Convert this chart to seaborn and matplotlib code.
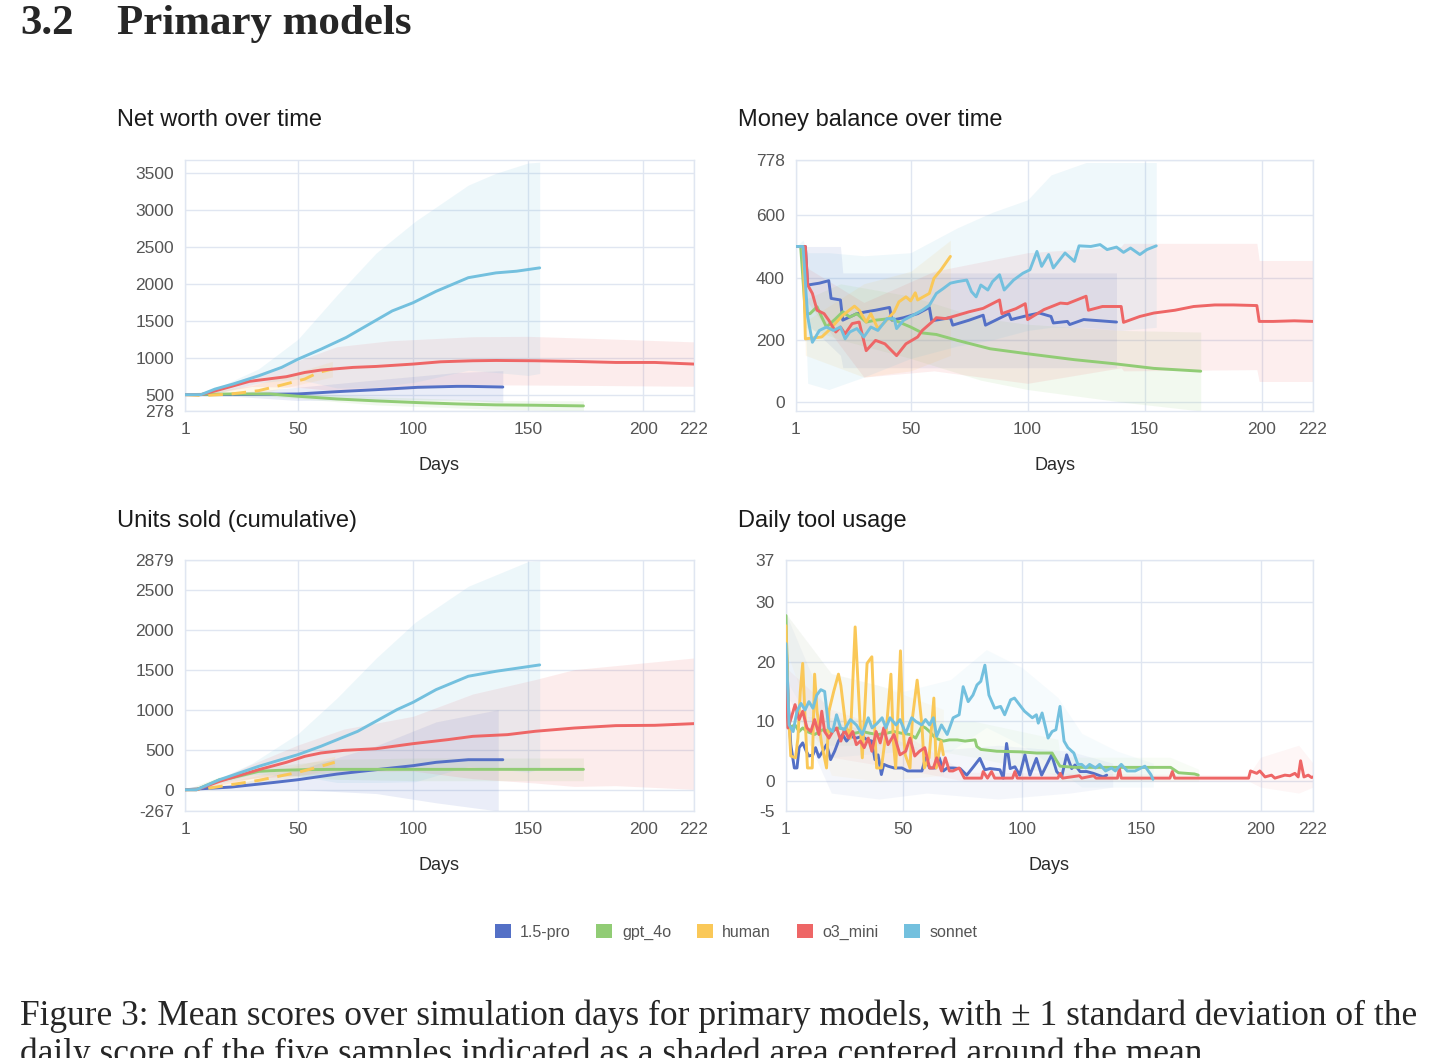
import seaborn as sns
import matplotlib.pyplot as plt
from matplotlib.patches import Patch

# ---------------- data ----------------
MODELS = ["1.5-pro", "gpt_4o", "human", "o3_mini", "sonnet"]
COLORS = ["#5470c6", "#91cc75", "#fac858", "#ee6666", "#73c0de"]

# Net worth over time
nw_pro_days = [1, 21, 50, 67, 84, 102, 119, 124, 139]
nw_pro = [500, 500, 509, 540, 567, 599, 612, 612, 603]
nw_gpt_days = [1, 21, 38, 50, 67, 84, 102, 119, 136, 153, 174]
nw_gpt = [500, 509, 509, 478, 441, 415, 392, 374, 361, 356, 347]
nw_human_days = [1, 9, 21, 33, 43, 53, 59, 65]
nw_human = [500, 487, 509, 554, 630, 711, 801, 846]
nw_o3_days = [1, 8, 16, 29, 45, 53, 60, 74, 84, 100, 112, 126, 136, 153, 170, 188, 205, 222]
nw_o3 = [500, 500, 567, 680, 743, 800, 833, 869, 882, 914, 945, 959, 963, 959, 950, 936, 936, 914]
nw_sonnet_days = [1, 8, 14, 22, 33, 43, 50, 60, 71, 81, 91, 100, 110, 124, 136, 145, 155]
nw_sonnet = [500, 500, 575, 645, 755, 870, 980, 1115, 1275, 1455, 1635, 1745, 1900, 2085, 2150, 2173, 2218]

nw_pro_bd = [1, 21, 50, 84, 119, 139]
nw_pro_lo = [500, 480, 420, 430, 424, 397]
nw_pro_hi = [500, 520, 600, 700, 800, 825]
nw_gpt_bd = [1, 38, 84, 136, 174]
nw_gpt_lo = [500, 478, 360, 300, 278]
nw_gpt_hi = [500, 540, 470, 420, 415]
nw_human_bd = [1, 30, 65]
nw_human_lo = [500, 490, 740]
nw_human_hi = [500, 620, 950]
nw_o3_bd = [8, 30, 50, 67, 90, 126, 150, 180, 222]
nw_o3_lo = [490, 610, 600, 550, 560, 633, 630, 624, 613]
nw_o3_hi = [510, 760, 960, 1150, 1230, 1285, 1290, 1260, 1215]
nw_sonnet_bd = [1, 10, 33, 50, 67, 84, 101, 124, 136, 150, 155]
nw_sonnet_lo = [500, 480, 660, 710, 590, 600, 670, 830, 800, 760, 786]
nw_sonnet_hi = [500, 520, 850, 1250, 1850, 2420, 2850, 3340, 3500, 3640, 3650]

# Money balance over time
mb_pro_days = [1, 5, 6, 11, 15, 16, 20, 21, 27, 31, 35, 41, 42, 47, 53, 58, 59, 67, 68, 75, 81, 82,
               92, 93, 100, 105, 110, 111, 117, 118, 124, 138]
mb_pro = [500, 500, 376, 382, 390, 333, 328, 263, 284, 290, 295, 304, 263, 271, 284, 304, 261, 271, 247,
          263, 279, 247, 284, 265, 278, 286, 275, 254, 259, 249, 265, 257]
mb_gpt_days = [1, 3, 5, 7, 10, 12, 14, 18, 21, 24, 27, 31, 35, 41, 45, 50, 55, 61, 70, 84, 100, 120,
               137, 154, 174]
mb_gpt = [500, 500, 284, 284, 306, 273, 241, 268, 290, 273, 284, 257, 263, 268, 257, 241, 222, 217, 198,
          171, 155, 136, 123, 108, 99]
mb_human_days = [1, 4, 5, 12, 15, 21, 26, 28, 31, 33, 36, 39, 43, 45, 48, 50, 52, 53, 58, 60, 63, 67]
mb_human = [500, 500, 203, 209, 230, 279, 308, 295, 257, 284, 236, 257, 290, 322, 338, 325, 351, 328,
            349, 398, 425, 468]
mb_o3_days = [1, 5, 6, 8, 10, 13, 15, 18, 20, 22, 25, 28, 31, 35, 39, 44, 48, 53, 55, 60, 61, 65, 70,
              75, 81, 88, 89, 95, 99, 100, 107, 114, 117, 125, 126, 132, 140, 141, 148, 154, 163, 171,
              180, 188, 198, 199, 205, 214, 222]
mb_o3 = [500, 500, 376, 349, 295, 284, 263, 225, 241, 219, 252, 257, 165, 198, 187, 149, 187, 209, 230,
         263, 271, 268, 279, 290, 301, 328, 284, 300, 316, 265, 297, 318, 316, 340, 295, 307, 307, 256,
         275, 286, 295, 307, 312, 312, 310, 259, 259, 261, 259]
mb_sonnet_days = [1, 4, 6, 8, 11, 14, 17, 20, 22, 24, 27, 30, 33, 36, 40, 43, 44, 47, 51, 55, 58, 61,
                  64, 67, 70, 74, 76, 78, 80, 83, 85, 88, 90, 94, 98, 101, 104, 106, 109, 111, 116, 120,
                  122, 127, 131, 134, 138, 141, 144, 148, 151, 155]
mb_sonnet = [500, 500, 274, 192, 230, 241, 230, 241, 203, 225, 236, 209, 241, 230, 268, 268, 236, 263,
             279, 295, 311, 349, 365, 382, 387, 392, 355, 338, 376, 360, 387, 409, 360, 392, 414, 425,
             484, 436, 474, 431, 479, 452, 502, 500, 506, 490, 498, 481, 495, 474, 490, 502]

mb_pro_bd = [1, 5, 6, 20, 21, 60, 100, 138]
mb_pro_lo = [500, 500, 250, 150, 110, 110, 110, 110]
mb_pro_hi = [500, 500, 500, 500, 415, 415, 415, 415]
mb_gpt_bd = [1, 3, 5, 20, 50, 80, 100, 140, 174]
mb_gpt_lo = [500, 500, 240, 200, 140, 70, 40, 0, -29]
mb_gpt_hi = [500, 500, 330, 380, 340, 270, 250, 230, 225]
mb_human_bd = [1, 4, 5, 30, 50, 67]
mb_human_lo = [500, 500, 150, 80, 100, 150]
mb_human_hi = [500, 500, 260, 380, 420, 520]
mb_o3_bd = [1, 5, 6, 30, 60, 100, 140, 141, 198, 199, 222]
mb_o3_lo = [500, 500, 320, 80, 100, 60, 110, 100, 104, 66, 66]
mb_o3_hi = [500, 500, 430, 320, 420, 480, 500, 510, 510, 455, 455]
mb_sonnet_bd = [1, 4, 6, 15, 30, 50, 70, 85, 100, 110, 125, 140, 155]
mb_sonnet_lo = [500, 480, 60, 40, 80, 140, 180, 200, 230, 240, 240, 230, 240]
mb_sonnet_hi = [500, 520, 480, 480, 470, 480, 560, 610, 650, 730, 770, 770, 770]

# Units sold (cumulative)
us_pro_days = [1, 21, 40, 50, 67, 84, 100, 110, 124, 139]
us_pro = [0, 33, 92, 125, 196, 251, 301, 343, 376, 376]
us_gpt_days = [1, 6, 16, 21, 33, 41, 53, 67, 102, 174]
us_gpt = [0, 0, 125, 146, 230, 242, 251, 255, 255, 255]
us_human_days = [1, 9, 21, 33, 50, 60, 66]
us_human = [0, 8, 63, 117, 217, 293, 343]
us_o3_days = [1, 6, 16, 33, 45, 53, 60, 70, 84, 100, 115, 126, 141, 153, 170, 188, 205, 222]
us_o3 = [0, 0, 105, 251, 343, 418, 460, 493, 514, 577, 627, 669, 690, 732, 773, 803, 807, 828]
us_sonnet_days = [1, 6, 16, 33, 50, 60, 76, 93, 100, 110, 124, 136, 155]
us_sonnet = [0, 0, 125, 293, 439, 544, 732, 1003, 1095, 1254, 1422, 1484, 1564]

us_pro_bd = [1, 21, 50, 84, 110, 137]
us_pro_lo = [0, 6, 0, -48, -164, -267]
us_pro_hi = [0, 60, 250, 550, 850, 1003]
us_gpt_bd = [1, 16, 41, 67, 102, 174]
us_gpt_lo = [0, 90, 184, 130, 113, 113]
us_gpt_hi = [0, 160, 300, 380, 397, 397]
us_human_bd = [1, 30, 66]
us_human_lo = [0, 50, 266]
us_human_hi = [0, 160, 420]
us_o3_bd = [6, 30, 50, 70, 100, 126, 153, 170, 188, 222]
us_o3_lo = [0, 140, 180, 226, 234, 138, 84, 41, 51, 5]
us_o3_hi = [0, 320, 560, 760, 920, 1200, 1380, 1505, 1555, 1651]
us_sonnet_bd = [1, 6, 30, 50, 67, 84, 101, 124, 150, 155]
us_sonnet_lo = [0, 0, 190, 178, 90, 90, 100, 294, 220, 258]
us_sonnet_hi = [0, 10, 330, 700, 1150, 1650, 2100, 2550, 2860, 2870]

# Daily tool usage
tu_pro_days = [1, 2, 3, 4.5, 5.6, 6.5, 8, 9.5, 10.6, 12.3, 13.4, 14.8, 16.4, 18, 19.7, 21.4, 23, 24.7,
               26.4, 28, 30.5, 33, 35, 37, 38.3, 39.6, 41, 42, 43.8, 46.3, 49.6, 52, 58, 59.5, 61.2,
               63.7, 65.3, 67, 68.6, 71, 74, 76.8, 79.6, 82.3, 84.4, 86.5, 90.7, 92.1, 93.5, 95, 97,
               99, 101.2, 103.3, 106, 108.2, 112.4, 114.5, 116.6, 118.7, 120.8, 122.2, 124.3, 127.1,
               129.9, 134, 135.5]
tu_pro = [23.9, 12.8, 6.1, 2.2, 2.2, 5.6, 6.4, 5, 4.2, 4.4, 5.6, 4, 5, 6.1, 3.6, 5, 6.7, 7.8, 6.7, 7.5,
          7.2, 7.5, 6.9, 6.7, 3.6, 4.4, 1.1, 2.8, 2.5, 2.2, 2.2, 1.7, 1.7, 3.9, 2.2, 2.2, 3.9, 1.7, 2.2,
          2.2, 2.1, 1, 2.4, 3.8, 1.9, 2.1, 1.9, 0.5, 6.3, 2.1, 2.4, 1, 4.4, 1, 3.8, 1, 4.4, 1.6, 0.7,
          4.4, 2.1, 2.7, 1.6, 1.6, 1.3, 0.7, 1]
tu_gpt_days = [1, 2, 4.8, 6.5, 8, 9.8, 13, 16.4, 19.7, 23, 26.4, 29.7, 33, 36.3, 39.6, 43, 46.3, 49.6,
               53, 55.4, 58, 59.5, 61.2, 63.7, 67, 69.5, 72.8, 76.1, 80.3, 81, 82.7, 89.4, 99.3, 106,
               112.6, 114.2, 115.9, 122.5, 162.3, 165.6, 172.3, 173.9]
tu_gpt = [27.7, 8.9, 9.4, 8.3, 8.9, 8.3, 7.8, 8.6, 8.3, 8.9, 8.6, 8, 8.3, 8, 7.8, 8, 8.3, 8, 7.8, 7.2,
          9.2, 8.9, 8.3, 7.2, 6.7, 6.9, 6.9, 6.7, 6.9, 5.8, 5.3, 5, 4.9, 4.7, 4.7, 3.6, 2.5, 2.3, 2.3,
          1.4, 1.2, 1.0]
tu_human_days = [1, 2, 3, 5, 6, 7, 8, 9, 10, 12, 13, 14, 16, 18, 19, 21, 23, 24, 26, 28, 30, 32, 33,
                 35, 37, 38, 39, 41, 43, 45, 46, 47, 49, 50, 51, 53, 54, 56, 58, 59, 61, 63, 64, 66, 67]
tu_human = [26, 11.7, 4.2, 3.9, 7.2, 15, 19.7, 10.5, 2.2, 2.2, 17.9, 11.7, 6.1, 2.2, 11.7, 15, 17.9, 16,
            9.4, 7.2, 25.8, 10.3, 3.9, 19.7, 20.8, 10.5, 2.2, 2.2, 8.3, 17.9, 6.7, 2.2, 21.8, 9.4, 4.4,
            2.2, 10.5, 16.9, 9.4, 2.2, 3.9, 13.9, 2.2, 6.7, 4.4]
tu_o3_days = [1, 1.8, 3.2, 4.8, 6.5, 8, 9.8, 11.4, 13, 14.8, 16, 17.2, 19, 20.6, 22.2, 24, 25.5, 27.2,
              29, 30.5, 32.2, 33.8, 35.5, 37, 38.8, 40.5, 42, 43.8, 46.3, 48.8, 51.2, 53, 55, 57, 59.2,
              61.2, 62.8, 64.2, 66.2, 67.8, 69.5, 71, 73.6, 75.8, 83, 83.7, 85.5, 87.2, 88.5, 96, 97,
              98, 115, 116, 117, 124, 125, 130, 131, 140, 140.8, 141.6, 162, 163, 164, 195, 195.8,
              198.4, 199.7, 201.9, 204.6, 206, 210.2, 212.3, 214.4, 215.8, 216.8, 218.2, 220, 221.4, 222]
tu_o3 = [16.7, 8.9, 10.6, 12.8, 10.3, 11.7, 8.9, 8.3, 10.3, 7.8, 11.7, 8.3, 7.2, 8.3, 8.9, 6.7, 8.6, 7.2,
         8.3, 6.1, 6.7, 5.6, 7.2, 5, 8.3, 6.4, 8.9, 6.1, 7.8, 4.4, 5, 7.2, 4.2, 5, 5.6, 2.2, 2.2, 3.9,
         1.7, 3.9, 1.7, 1.7, 2.2, 0.5, 0.5, 1.6, 0.5, 1.6, 0.5, 0.5, 1.6, 0.5, 0.5, 1.3, 0.5, 0.9, 0.5,
         0.9, 0.5, 0.5, 2.1, 0.5, 0.5, 1.6, 0.5, 0.5, 1.7, 1.3, 1.7, 0.7, 1, 0.5, 1, 0.9, 1.3, 0.7, 3.4,
         0.7, 1, 0.6, 0.7]
tu_sonnet_days = [1, 2.3, 4, 5.6, 7.3, 9, 10.6, 12.3, 13.9, 15.6, 17.2, 18.9, 20.6, 22.2, 23.9, 25.5,
                  28, 30.5, 33, 35.5, 37.1, 39.3, 41.3, 42.9, 44.6, 47.1, 48.8, 51.2, 53.7, 55.4, 57.9,
                  59.5, 61.2, 62.8, 64.2, 66.2, 68.6, 71.1, 73.6, 75.3, 77.4, 79.4, 81.1, 82.7, 84.4,
                  86.1, 88.5, 91, 92.7, 95.2, 96.8, 98.5, 101, 104.3, 106, 106.8, 108.4, 110.9, 112.6,
                  114.2, 115.9, 117.6, 119.2, 121.7, 123.4, 125, 126.7, 128.3, 130.8, 132.5, 135, 137.5,
                  139.1, 141.6, 144.1, 147.4, 151.5, 154, 154.9]
tu_sonnet = [23, 9.4, 8.3, 11.7, 13, 11.9, 13.3, 12.2, 14.4, 15.3, 15, 8.9, 8.3, 11.1, 8.9, 8.6, 10.3,
             9.4, 7.8, 10.6, 8.9, 9.7, 10.6, 8.9, 10.6, 9.4, 10.3, 8, 10.6, 10, 9.4, 10.3, 9.4, 10.6,
             7.5, 9.4, 7.8, 10.6, 11.1, 15.8, 13.3, 14.4, 16.1, 16.7, 19.4, 14.4, 12.2, 12.5, 11.1,
             13.6, 13.9, 13, 11.7, 10.6, 11.1, 9.7, 11.4, 7.2, 8.3, 8.6, 12.5, 6.7, 5.6, 4.7, 2.8, 2.8,
             2.2, 2.8, 2.2, 2.8, 1.7, 2.2, 1.7, 2.8, 1.7, 1.7, 2.5, 1.1, 0.3]

tu_pro_bd = [1, 20, 40, 60, 90, 120, 138]
tu_pro_lo = [15, -2, -3, -2, -3, -2, -1]
tu_pro_hi = [28, 10, 8, 5, 6, 5, 3]
tu_gpt_bd = [1, 2, 50, 80, 115, 116, 162, 174]
tu_gpt_lo = [26, 6, 6, 4, 1, 0, 0, 0]
tu_gpt_hi = [29, 11, 10, 10, 7, 4, 4, 2]
tu_human_bd = [1, 20, 40, 67]
tu_human_lo = [22, 1, 0, 1]
tu_human_hi = [28, 18, 16, 12]
tu_o3_bd = [1, 20, 50, 76, 195, 200, 216, 222]
tu_o3_lo = [13, 4, 2, 0, 0, -1, -2, -1]
tu_o3_hi = [19, 12, 8, 1.5, 1, 4, 6, 3]
tu_sonnet_bd = [1, 20, 50, 70, 85, 100, 115, 125, 140, 155]
tu_sonnet_lo = [17, 4, 5, 5, 9, 6, 2, -1, -1, -1]
tu_sonnet_hi = [28, 18, 15, 17, 22, 19, 14, 8, 5, 3]

X_TICKS = [1, 50, 100, 150, 200, 222]

# ---------------- figure ----------------
sns.set_theme(style="white")
plt.rcParams["font.family"] = ["Liberation Sans", "DejaVu Sans"]

fig = plt.figure(figsize=(14.44, 10.58), dpi=100)
W, H = 1444, 1058


def box(l, t, r, b):
    return [l / W, 1 - b / H, (r - l) / W, (b - t) / H]


panels = [
    dict(rect=box(185, 160, 694, 411), title="Net worth over time", tx=117, ty=120,
         ylim=(278, 3680), yticks=[278, 500, 1000, 1500, 2000, 2500, 3000, 3500], dash_human=True,
         alpha=0.12,
         series=[(nw_pro_days, nw_pro, nw_pro_bd, nw_pro_lo, nw_pro_hi),
                 (nw_gpt_days, nw_gpt, nw_gpt_bd, nw_gpt_lo, nw_gpt_hi),
                 (nw_human_days, nw_human, nw_human_bd, nw_human_lo, nw_human_hi),
                 (nw_o3_days, nw_o3, nw_o3_bd, nw_o3_lo, nw_o3_hi),
                 (nw_sonnet_days, nw_sonnet, nw_sonnet_bd, nw_sonnet_lo, nw_sonnet_hi)]),
    dict(rect=box(796, 160, 1313, 411), title="Money balance over time", tx=738, ty=120,
         ylim=(-29, 778), yticks=[0, 200, 400, 600, 778], dash_human=False, alpha=0.11,
         series=[(mb_pro_days, mb_pro, mb_pro_bd, mb_pro_lo, mb_pro_hi),
                 (mb_gpt_days, mb_gpt, mb_gpt_bd, mb_gpt_lo, mb_gpt_hi),
                 (mb_human_days, mb_human, mb_human_bd, mb_human_lo, mb_human_hi),
                 (mb_o3_days, mb_o3, mb_o3_bd, mb_o3_lo, mb_o3_hi),
                 (mb_sonnet_days, mb_sonnet, mb_sonnet_bd, mb_sonnet_lo, mb_sonnet_hi)]),
    dict(rect=box(185, 560, 694, 811), title="Units sold (cumulative)", tx=117, ty=521,
         ylim=(-267, 2879), yticks=[-267, 0, 500, 1000, 1500, 2000, 2500, 2879], dash_human=True,
         alpha=0.12,
         series=[(us_pro_days, us_pro, us_pro_bd, us_pro_lo, us_pro_hi),
                 (us_gpt_days, us_gpt, us_gpt_bd, us_gpt_lo, us_gpt_hi),
                 (us_human_days, us_human, us_human_bd, us_human_lo, us_human_hi),
                 (us_o3_days, us_o3, us_o3_bd, us_o3_lo, us_o3_hi),
                 (us_sonnet_days, us_sonnet, us_sonnet_bd, us_sonnet_lo, us_sonnet_hi)]),
    dict(rect=box(786, 560, 1313, 811), title="Daily tool usage", tx=738, ty=521,
         ylim=(-5, 37), yticks=[-5, 0, 10, 20, 30, 37], dash_human=False, alpha=0.06,
         series=[(tu_pro_days, tu_pro, tu_pro_bd, tu_pro_lo, tu_pro_hi),
                 (tu_gpt_days, tu_gpt, tu_gpt_bd, tu_gpt_lo, tu_gpt_hi),
                 (tu_human_days, tu_human, tu_human_bd, tu_human_lo, tu_human_hi),
                 (tu_o3_days, tu_o3, tu_o3_bd, tu_o3_lo, tu_o3_hi),
                 (tu_sonnet_days, tu_sonnet, tu_sonnet_bd, tu_sonnet_lo, tu_sonnet_hi)]),
]

for p in panels:
    ax = fig.add_axes(p["rect"])
    for (days, vals, bd, lo, hi), name, color in zip(p["series"], MODELS, COLORS):
        ax.fill_between(bd, lo, hi, color=color, alpha=p["alpha"], linewidth=0, zorder=1)
    for (days, vals, bd, lo, hi), name, color in zip(p["series"], MODELS, COLORS):
        ls = (0, (5, 3)) if (name == "human" and p["dash_human"]) else "-"
        sns.lineplot(x=days, y=vals, ax=ax, color=color, linewidth=2.1, linestyle=ls,
                     estimator=None, sort=False, legend=False, zorder=3)
    ax.set_xlim(1, 222)
    ax.set_ylim(*p["ylim"])
    ax.set_xticks(X_TICKS)
    ax.set_yticks(p["yticks"])
    ax.set_xticklabels([str(t) for t in X_TICKS])
    ax.set_yticklabels([str(t) for t in p["yticks"]])
    ax.grid(True, color="#e0e6f1", linewidth=1, zorder=0)
    ax.set_axisbelow(True)
    for s in ax.spines.values():
        s.set_color("#e0e6f1")
        s.set_linewidth(1)
    ax.tick_params(length=0, pad=8, labelsize=12.5, labelcolor="#555555")
    ax.set_xlabel("")
    ax.set_ylabel("")
    fig.text(p["tx"] / W, 1 - p["ty"] / H, p["title"], fontsize=17, color="#1a1a1a",
             va="center", ha="left")
    l, b, w, h = p["rect"]
    fig.text(l + w / 2, b - 54 / H, "Days", fontsize=13, color="#2a2a2a", ha="center", va="center")

handles = [Patch(facecolor=c, edgecolor="none") for c in COLORS]
fig.legend(handles, MODELS, loc="center", bbox_to_anchor=(736 / W, 1 - 932 / H), ncol=5,
           frameon=False, fontsize=11.5, handlelength=1.0, handleheight=1.0, handletextpad=0.6,
           columnspacing=1.6, labelcolor="#555555")

serif = ["Liberation Serif", "DejaVu Serif"]
fig.text(20 / W, 1 - 24 / H, "3.2", fontsize=31, fontweight="bold", family=serif, va="center")
fig.text(117 / W, 1 - 24 / H, "Primary models", fontsize=31, fontweight="bold", family=serif,
         va="center")
fig.text(20 / W, 1 - 1016 / H,
         "Figure 3: Mean scores over simulation days for primary models, with \u00b1 1 standard deviation of the",
         fontsize=25.5, family=serif, va="center")
fig.text(20 / W, 1 - 1054 / H,
         "daily score of the five samples indicated as a shaded area centered around the mean.",
         fontsize=25.5, family=serif, va="center")

fig.savefig("out.png", dpi=100)
